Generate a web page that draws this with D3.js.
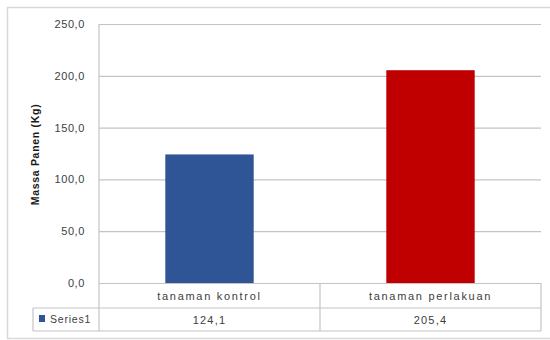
<!DOCTYPE html>
<html>
<head>
<meta charset="utf-8">
<script src="https://cdn.jsdelivr.net/npm/d3@7/dist/d3.min.js"></script>
<style>
  body { margin: 0; background: #fff; }
  svg { display: block; }
  text { font-family: "Liberation Sans", Arial, sans-serif; fill: #404040; }
</style>
</head>
<body>
<svg id="chart" width="550" height="340"></svg>
<script>
// Harvest mass per treatment group
const categories = ["tanaman kontrol", "tanaman perlakuan"];
const values = [124.1, 205.4];
const barColors = ["#2f5597", "#c00000"];
const seriesName = "Series1";
const yTicks = [0, 50, 100, 150, 200, 250];
const yTitle = "Massa Panen (Kg)";

const fmt = v => d3.format(".1f")(v).replace(".", ",");

const svg = d3.select("#chart");
const plotLeft = 99, plotRight = 541, plotTop = 24, plotBottom = 283;
const row1 = 308, row2 = 331, legendLeft = 33;
const gridColor = "#c4c4c4";

// outer chart border (runs past the right edge of the frame)
svg.append("rect")
  .attr("x", 7.5).attr("y", 7.5).attr("width", 560).attr("height", 331)
  .attr("fill", "#fff").attr("stroke", "#d9d9d9").attr("stroke-width", 1.5);

const x = d3.scaleBand().domain(categories).range([plotLeft, plotRight])
  .paddingInner(0.6).paddingOuter(0.3);
const y = d3.scaleLinear().domain([0, 250]).range([plotBottom, plotTop]);

// gridlines
svg.append("g")
  .attr("transform", `translate(${plotLeft},0)`)
  .call(d3.axisLeft(y).tickValues(yTicks).tickSize(-(plotRight - plotLeft)).tickFormat(""))
  .call(g => g.select(".domain").remove())
  .call(g => g.selectAll("line").attr("stroke", gridColor).attr("stroke-width", 1.2));

// y tick labels
svg.append("g")
  .attr("transform", `translate(${plotLeft},0)`)
  .call(d3.axisLeft(y).tickValues(yTicks).tickSize(0).tickPadding(14).tickFormat(fmt))
  .call(g => g.select(".domain").remove())
  .call(g => g.selectAll("text")
    .style("font-size", "11px").style("letter-spacing", "0.6px")
    .attr("fill", "#404040").attr("font-family", "Liberation Sans, Arial, sans-serif"));

// y axis title
svg.append("text")
  .attr("transform", `translate(38.5,${(plotTop + plotBottom) / 2 + 1}) rotate(-90)`)
  .attr("text-anchor", "middle")
  .style("font-size", "10.5px").style("font-weight", "bold").style("letter-spacing", "0.7px")
  .style("fill", "#1a1a1a")
  .text(yTitle);

// bars
svg.selectAll("rect.bar").data(categories).enter().append("rect")
  .attr("class", "bar")
  .attr("x", d => x(d))
  .attr("width", x.bandwidth())
  .attr("y", (d, i) => y(values[i]))
  .attr("height", (d, i) => y(0) - y(values[i]))
  .attr("fill", (d, i) => barColors[i]);

// data table lines
const mid = plotLeft + (plotRight - plotLeft) / 2;
const lines = svg.append("g").attr("stroke", gridColor).attr("stroke-width", 1.2);
lines.append("line").attr("x1", plotLeft).attr("x2", plotLeft).attr("y1", plotTop).attr("y2", row2);
lines.append("line").attr("x1", plotRight).attr("x2", plotRight).attr("y1", plotBottom).attr("y2", row2);
lines.append("line").attr("x1", mid).attr("x2", mid).attr("y1", plotBottom).attr("y2", row2);
lines.append("line").attr("x1", legendLeft).attr("x2", plotRight).attr("y1", row1).attr("y2", row1);
lines.append("line").attr("x1", legendLeft).attr("x2", plotRight).attr("y1", row2).attr("y2", row2);
lines.append("line").attr("x1", legendLeft).attr("x2", legendLeft).attr("y1", row1).attr("y2", row2);

// category labels
svg.selectAll("text.cat").data(categories).enter().append("text")
  .attr("class", "cat")
  .attr("x", d => x(d) + x.bandwidth() / 2)
  .attr("y", 300)
  .attr("text-anchor", "middle")
  .style("font-size", "11px").style("letter-spacing", "1.7px")
  .text(d => d);

// value row
svg.selectAll("text.val").data(values).enter().append("text")
  .attr("class", "val")
  .attr("x", (d, i) => x(categories[i]) + x.bandwidth() / 2)
  .attr("y", 324)
  .attr("text-anchor", "middle")
  .style("font-size", "11px").style("letter-spacing", "1.2px")
  .text(d => fmt(d));

// legend key
svg.append("rect").attr("x", 39).attr("y", 315).attr("width", 6).attr("height", 7).attr("fill", barColors[0]);
svg.append("text").attr("x", 50).attr("y", 323)
  .style("font-size", "10.5px").style("letter-spacing", "0.8px")
  .text(seriesName);
</script>
</body>
</html>
